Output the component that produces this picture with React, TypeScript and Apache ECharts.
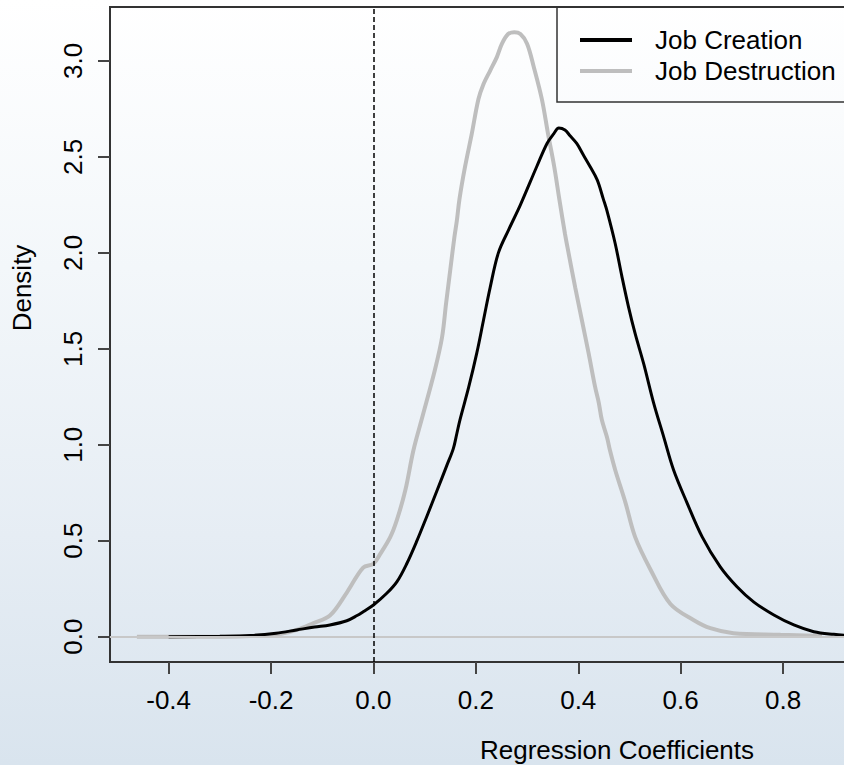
import React, { useEffect, useRef } from "react";
import * as echarts from "echarts";

// Job Creation density (x = regression coefficient, y = density)
const creationX = [-0.4, -0.3, -0.24, -0.19, -0.15, -0.115, -0.085, -0.052, -0.032, -0.02, 0.0, 0.026, 0.046, 0.065, 0.085, 0.104, 0.124, 0.143, 0.156, 0.163, 0.169, 0.186, 0.202, 0.215, 0.228, 0.244, 0.264, 0.287, 0.319, 0.339, 0.352, 0.362, 0.374, 0.384, 0.397, 0.41, 0.423, 0.437, 0.449, 0.456, 0.472, 0.485, 0.498, 0.511, 0.528, 0.547, 0.567, 0.586, 0.612, 0.642, 0.677, 0.71, 0.743, 0.782, 0.821, 0.86, 0.899, 0.93, 0.96];
const creationY = [0, 0.002, 0.006, 0.018, 0.035, 0.05, 0.061, 0.083, 0.11, 0.13, 0.165, 0.226, 0.287, 0.38, 0.5, 0.625, 0.76, 0.89, 0.98, 1.06, 1.13, 1.3, 1.48, 1.65, 1.82, 2.0, 2.12, 2.25, 2.45, 2.57, 2.62, 2.65, 2.64, 2.61, 2.57, 2.51, 2.45, 2.38, 2.28, 2.22, 2.05, 1.88, 1.72, 1.58, 1.42, 1.22, 1.04, 0.87, 0.7, 0.52, 0.365, 0.26, 0.18, 0.113, 0.061, 0.026, 0.012, 0.006, 0.003];

// Job Destruction density
const destructionX = [-0.462, -0.3, -0.24, -0.18, -0.15, -0.118, -0.085, -0.052, -0.02, 0.0, 0.013, 0.033, 0.046, 0.062, 0.078, 0.094, 0.12, 0.134, 0.142, 0.15, 0.158, 0.163, 0.168, 0.179, 0.192, 0.205, 0.215, 0.228, 0.241, 0.251, 0.263, 0.275, 0.287, 0.3, 0.313, 0.329, 0.341, 0.353, 0.363, 0.374, 0.381, 0.394, 0.407, 0.42, 0.433, 0.44, 0.446, 0.456, 0.462, 0.472, 0.492, 0.511, 0.541, 0.58, 0.625, 0.658, 0.703, 0.795, 0.876];
const destructionY = [0, 0, 0.003, 0.015, 0.035, 0.07, 0.11, 0.23, 0.36, 0.38, 0.43, 0.52, 0.61, 0.76, 0.97, 1.13, 1.39, 1.56, 1.74, 1.91, 2.08, 2.17, 2.28, 2.45, 2.62, 2.8, 2.88, 2.95, 3.02, 3.09, 3.14, 3.15, 3.14, 3.09, 2.97, 2.8, 2.62, 2.45, 2.28, 2.1, 2.0, 1.82, 1.65, 1.48, 1.3, 1.22, 1.13, 1.04, 0.97, 0.87, 0.7, 0.52, 0.35, 0.17, 0.087, 0.044, 0.018, 0.01, 0.004];

const xTicks = [-0.4, -0.2, 0.0, 0.2, 0.4, 0.6, 0.8];
const yTicks = [0.0, 0.5, 1.0, 1.5, 2.0, 2.5, 3.0];
const seriesNames = ["Job Creation", "Job Destruction"];
const xTitle = "Regression Coefficients";
const yTitle = "Density";

const FONT = "'Liberation Sans', Arial, sans-serif";

export default function App() {
  const ref = useRef<HTMLDivElement>(null);
  useEffect(() => {
    if (!ref.current) return;
    const chart = echarts.init(ref.current, undefined, { renderer: "svg" });
    const creation = creationX.map((x, i) => [x, creationY[i]]);
    const destruction = destructionX.map((x, i) => [x, destructionY[i]]);
    chart.setOption({
      animation: false,
      grid: {
        left: 110,
        top: 7,
        right: 1,
        bottom: 103,
        show: true,
        borderColor: "#333",
        borderWidth: 2,
        backgroundColor: "transparent",
      },
      xAxis: {
        type: "value",
        min: -0.5145,
        max: 0.96,
        position: "bottom",
        axisLine: { show: true, onZero: false, lineStyle: { color: "#333", width: 2 } },
        axisTick: {
          show: true,
          customValues: xTicks,
          length: 12,
          inside: false,
          lineStyle: { color: "#444", width: 2 },
        },
        axisLabel: {
          customValues: xTicks,
          formatter: (v: number) => v.toFixed(1),
          fontSize: 26,
          fontFamily: FONT,
          color: "#000",
          margin: 25,
        },
        splitLine: { show: false },
      },
      yAxis: {
        type: "value",
        min: -0.132,
        max: 3.281,
        position: "left",
        axisLine: { show: true, onZero: false, lineStyle: { color: "#333", width: 2 } },
        axisTick: {
          show: true,
          customValues: yTicks,
          length: 12,
          inside: false,
          lineStyle: { color: "#444", width: 2 },
        },
        axisLabel: {
          customValues: yTicks,
          formatter: (v: number) => v.toFixed(1),
          rotate: 90,
          fontSize: 26,
          fontFamily: FONT,
          color: "#000",
          margin: 24,
        },
        splitLine: { show: false },
      },
      legend: {
        data: seriesNames,
        orient: "vertical",
        left: 557,
        top: 7,
        padding: [18, 10, 16, 23],
        itemWidth: 52,
        itemHeight: 4,
        itemGap: 1,
        icon: "rect",
        borderWidth: 0,
        selectedMode: false,
        textStyle: {
          fontSize: 26,
          fontFamily: FONT,
          color: "#000",
          lineHeight: 30,
          padding: [0, 0, 0, 18],
        },
      },
      graphic: [
        {
          type: "rect",
          shape: { x: 557, y: 7, width: 330, height: 95 },
          style: { fill: "none", stroke: "#333", lineWidth: 1.5 },
          silent: true,
        },
        {
          type: "text",
          x: 617,
          y: 750,
          style: {
            text: xTitle,
            fontSize: 26,
            fontFamily: FONT,
            fill: "#000",
            align: "center",
            verticalAlign: "middle",
          },
        },
        {
          type: "text",
          x: 22,
          y: 288,
          rotation: Math.PI / 2,
          style: {
            text: yTitle,
            fontSize: 26,
            fontFamily: FONT,
            fill: "#000",
            align: "center",
            verticalAlign: "middle",
          },
        },
      ],
      series: [
        {
          name: "refs",
          type: "line",
          data: [],
          z: 1,
          markLine: {
            silent: true,
            symbol: ["none", "none"],
            label: { show: false },
            animation: false,
            data: [
              { yAxis: 0, lineStyle: { color: "#c8c8c8", width: 2, type: "solid" } },
              { xAxis: 0, lineStyle: { color: "#000", width: 1.5, type: [5, 3] } },
            ],
          },
        },
        {
          name: "Job Destruction",
          type: "line",
          data: destruction,
          symbol: "none",
          showSymbol: false,
          smooth: 0.35,
          z: 3,
          color: "#bebebe",
          itemStyle: { color: "#bebebe" },
          lineStyle: { color: "#bebebe", width: 4 },
        },
        {
          name: "Job Creation",
          type: "line",
          data: creation,
          symbol: "none",
          showSymbol: false,
          smooth: 0.35,
          z: 4,
          color: "#000",
          itemStyle: { color: "#000" },
          lineStyle: { color: "#000", width: 3 },
        },
      ],
    });
    return () => chart.dispose();
  }, []);
  return (
    <div
      style={{
        position: "fixed",
        left: 0,
        top: 0,
        width: 844,
        height: 765,
        overflow: "hidden",
        background: "linear-gradient(180deg, #ffffff 0%, #f3f7fa 35%, #e6edf4 70%, #d9e4ee 100%)",
      }}
    >
      <div ref={ref} style={{ width: 866, height: 765 }} />
    </div>
  );
}
